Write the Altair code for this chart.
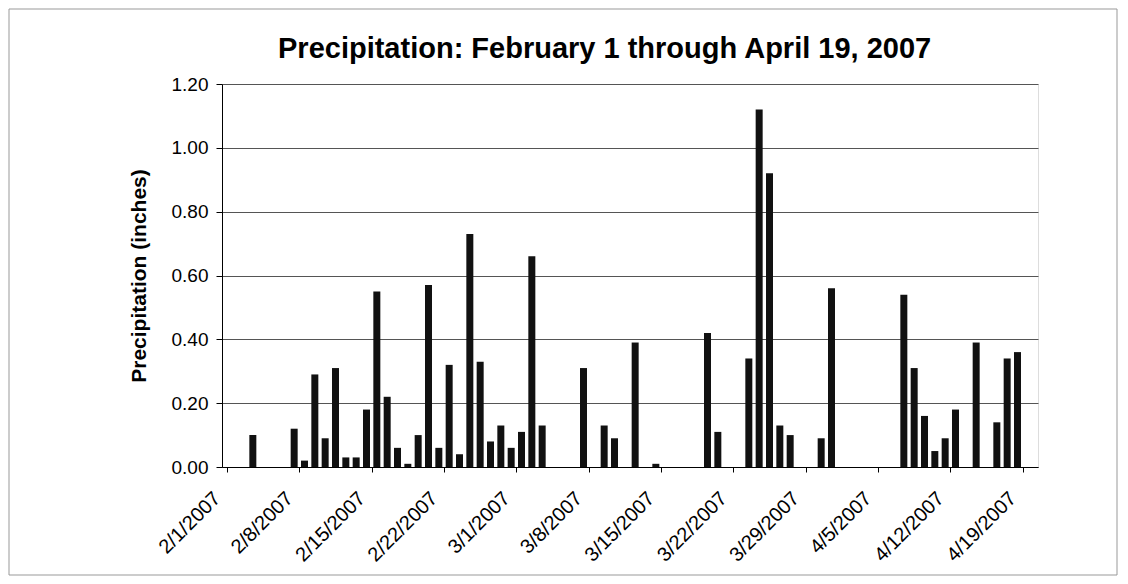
import json
import altair as alt
import pandas as pd

# ---- data ----
dates = [
    "2/3/2007", "2/7/2007", "2/8/2007", "2/9/2007", "2/10/2007", "2/11/2007",
    "2/12/2007", "2/13/2007", "2/14/2007", "2/15/2007", "2/16/2007", "2/17/2007",
    "2/18/2007", "2/19/2007", "2/20/2007", "2/21/2007", "2/22/2007", "2/23/2007",
    "2/24/2007", "2/25/2007", "2/26/2007", "2/27/2007", "2/28/2007", "3/1/2007",
    "3/2/2007", "3/3/2007", "3/7/2007", "3/9/2007", "3/10/2007", "3/12/2007",
    "3/14/2007", "3/19/2007", "3/20/2007", "3/23/2007", "3/24/2007", "3/25/2007",
    "3/26/2007", "3/27/2007", "3/30/2007", "3/31/2007", "4/7/2007", "4/8/2007",
    "4/9/2007", "4/10/2007", "4/11/2007", "4/12/2007", "4/14/2007", "4/16/2007",
    "4/17/2007", "4/18/2007",
]
precip = [
    0.10, 0.12, 0.02, 0.29, 0.09, 0.31,
    0.03, 0.03, 0.18, 0.55, 0.22, 0.06,
    0.01, 0.10, 0.57, 0.06, 0.32, 0.04,
    0.73, 0.33, 0.08, 0.13, 0.06, 0.11,
    0.66, 0.13, 0.31, 0.13, 0.09, 0.39,
    0.01, 0.42, 0.11, 0.34, 1.12, 0.92,
    0.13, 0.10, 0.09, 0.56, 0.54, 0.31,
    0.16, 0.05, 0.09, 0.18, 0.39, 0.14,
    0.34, 0.36,
]
tick_labels = [
    "2/1/2007", "2/8/2007", "2/15/2007", "2/22/2007", "3/1/2007", "3/8/2007",
    "3/15/2007", "3/22/2007", "3/29/2007", "4/5/2007", "4/12/2007", "4/19/2007",
]
y_ticks = [0.0, 0.2, 0.4, 0.6, 0.8, 1.0, 1.2]
start_date = "2/1/2007"
n_days = 78
title_text = "Precipitation: February 1 through April 19, 2007"
y_title = "Precipitation (inches)"

df = pd.DataFrame({"date": pd.to_datetime(dates, format="%m/%d/%Y"), "precip": precip})
start = pd.to_datetime(start_date, format="%m/%d/%Y")
df["day"] = (df["date"] - start).dt.days + 0.5

tick_pos = [i * 7 for i in range(len(tick_labels))]
label_expr = json.dumps(tick_labels) + "[round(datum.value / 7)]"

W, H = 816, 383
PL, PT, PR, PB = 214, 76, 80, 109

font = "Liberation Sans"

bars = alt.Chart(df).mark_bar(size=7, color="#111111").encode(
    x=alt.X(
        "day:Q",
        scale=alt.Scale(domain=[0, n_days], nice=False, zero=False),
        axis=alt.Axis(
            values=tick_pos,
            labelExpr=label_expr,
            labelAngle=-45,
            labelAlign="right",
            labelBaseline="middle",
            labelFont=font,
            labelFontSize=20,
            labelColor="#000000",
            labelPadding=23,
            labelOffset=-10,
            tickSize=5,
            tickColor="#000000",
            domainColor="#000000",
            grid=False,
            title=None,
            labelOverlap=False,
            labelFlush=False,
        ),
    ),
    y=alt.Y(
        "precip:Q",
        scale=alt.Scale(domain=[0, 1.2], nice=False),
        axis=alt.Axis(
            values=y_ticks,
            format=".2f",
            title=y_title,
            titleFont=font,
            titleFontSize=21,
            titleFontWeight="bold",
            titleColor="#000000",
            titlePadding=22,
            labelFont=font,
            labelFontSize=19,
            labelColor="#000000",
            labelPadding=8,
            tickSize=6,
            tickColor="#000000",
            domainColor="#000000",
            gridColor="#555555",
            gridWidth=1,
        ),
    ),
)

title = alt.Chart(pd.DataFrame({"t": [title_text]})).mark_text(
    font=font, fontSize=29, fontWeight="bold", color="#000000",
    align="left", baseline="alphabetic",
).encode(
    text="t:N",
    x=alt.value(56),
    y=alt.value(-26),
)

frame = alt.Chart(pd.DataFrame({"a": [0]})).mark_rect(
    fill=None, stroke="#999999", strokeWidth=1, clip=False
).encode(
    x=alt.value(-PL + 1),
    x2=alt.value(W + PR - 1),
    y=alt.value(-PT + 1),
    y2=alt.value(H + PB - 1),
)

chart = alt.layer(frame, bars, title).properties(
    width=W,
    height=H,
    padding={"left": PL, "top": PT, "right": PR, "bottom": PB},
    autosize=alt.AutoSizeParams(type="none"),
).configure_view(stroke="#000000", strokeWidth=1).configure(background="white")

chart.save("out.html", embed_options={"renderer": "svg", "actions": False})
